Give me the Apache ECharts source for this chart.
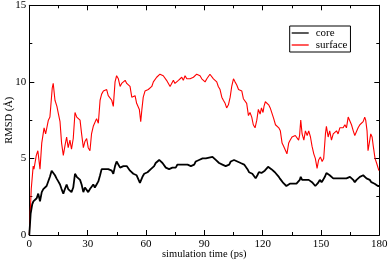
<!DOCTYPE html>
<html><head><meta charset="utf-8">
<script src="https://cdn.jsdelivr.net/npm/echarts@6/dist/echarts.min.js"></script>
<style>html,body{margin:0;padding:0;background:#fff}#c{width:388px;height:263px}</style>
</head><body><div id="c"></div>
<script>
const seriesNames = ["core", "surface"];
const xTicks = [0, 30, 60, 90, 120, 150, 180];
const yTicks = [0, 5, 10, 15];

const coreT = [0,0.7,1.5,2.1,2.9,3.8,4.6,5.5,6.4,7.2,8.1,8.9,9.8,10.6,11.5,12.3,13.2,14.0,14.9,15.8,16.6,17.5,18.3,19.2,20.0,20.9,21.7,22.6,23.5,24.4,25.2,26.1,26.9,27.8,28.6,29.5,30.3,31.2,32.0,32.9,33.7,34.6,35.5,36.4,37.2,38.1,38.9,39.8,40.6,41.5,42.4,43.2,44.1,44.9,45.8,46.7,47.5,48.4,49.3,50.1,51.0,51.8,52.7,53.5,54.4,55.2,56.1,56.9,57.5,58.2,59.1,59.9,60.8,61.7,62.5,63.4,64.2,65.0,65.9,66.8,67.6,68.5,69.3,70.2,71.1,71.9,72.8,73.6,74.5,75.3,76.2,77.1,77.9,78.8,79.6,80.5,81.4,82.2,83.1,83.9,84.8,85.6,86.5,87.3,88.2,89.1,89.9,90.8,91.6,92.5,93.3,94.2,95.1,95.9,96.8,97.6,98.5,99.3,100.2,101.0,101.9,102.8,103.6,104.5,105.3,106.2,107.0,107.9,108.7,109.6,110.5,111.3,112.2,113.0,113.9,114.7,115.6,116.4,117.3,118.1,119.4,120.2,121.1,122.0,122.8,123.7,124.5,125.4,126.3,127.1,128.0,128.8,129.7,130.6,131.4,132.2,133.1,134.0,134.8,135.7,136.5,137.4,138.2,139.1,139.6,140.3,141.2,142.0,142.9,143.7,144.6,145.4,146.3,147.1,147.7,148.5,149.4,150.3,151.1,152.0,152.8,153.7,154.5,155.4,156.3,157.1,158.0,158.8,159.7,160.6,161.4,162.3,163.1,164.0,164.9,165.7,166.6,167.4,168.3,169.1,170.0,170.8,171.7,172.5,173.4,174.2,175.1,175.9,176.8,177.6,178.5,179.3,180];
const coreV = [0,1.4,2.0,2.2,2.3,2.4,2.7,2.2,2.8,3.0,3.1,3.2,3.3,3.8,4.2,4.3,3.9,3.7,3.5,3.3,3.0,2.7,3.0,3.3,3.0,3.1,2.8,3.1,4.0,3.8,3.7,3.6,3.3,2.8,3.1,3.1,2.8,3.0,3.1,3.3,3.1,3.3,3.5,3.9,4.3,4.4,4.3,4.4,4.3,4.4,4.2,4.0,4.5,4.8,4.7,4.4,4.4,4.5,4.5,4.5,4.4,4.2,4.1,4.0,4.1,3.9,3.8,3.4,3.5,3.8,4.0,4.1,4.1,4.2,4.3,4.4,4.5,4.7,4.8,4.9,4.9,4.7,4.6,4.4,4.3,4.3,4.3,4.4,4.5,4.4,4.6,4.5,4.6,4.6,4.6,4.7,4.6,4.6,4.5,4.5,4.6,4.8,4.9,4.9,4.9,5.0,5.0,5.0,5.0,5.05,5.05,5.1,5.0,4.9,4.8,4.7,4.6,4.6,4.6,4.5,4.5,4.6,4.8,4.9,4.9,4.8,4.8,4.8,4.7,4.6,4.6,4.5,4.3,4.1,4.0,4.0,3.9,3.7,3.9,4.1,4.05,4.1,4.2,4.3,4.45,4.4,4.3,4.2,4.1,4.0,3.85,3.7,3.55,3.4,3.35,3.2,3.25,3.35,3.4,3.35,3.45,3.35,3.4,3.6,3.8,3.6,3.7,3.6,3.7,3.6,3.6,3.45,3.35,3.2,3.1,3.4,3.6,3.45,3.6,3.8,4.05,4.0,3.9,3.8,3.7,3.6,3.7,3.6,3.7,3.6,3.7,3.8,3.7,3.6,3.8,3.7,3.6,3.45,3.6,3.7,3.8,3.85,3.9,4.0,3.7,3.6,3.6,3.45,3.4,3.35,3.3,3.2,3.2];

const surfT = [0,1.0,2.0,2.4,3.6,4.4,5.5,6.4,7.6,8.4,9.8,10.6,11.8,12.3,13.2,14.2,15.0,15.8,16.6,17.5,18.3,19.2,20.0,20.9,21.7,22.6,23.5,24.4,25.2,26.1,26.9,27.8,28.6,29.5,30.3,31.2,32.0,32.9,33.7,34.6,35.5,36.4,37.2,38.1,38.9,39.8,40.6,41.5,42.4,43.2,44.1,44.9,45.8,46.7,47.5,48.4,49.3,50.1,51.0,51.8,52.7,53.5,54.4,55.2,56.1,56.6,57.3,57.9,58.6,59.5,60.4,61.2,62.1,63.0,63.8,65.5,67.2,68.1,68.9,69.8,70.6,71.5,72.4,73.2,74.1,74.9,75.8,76.7,77.5,78.4,79.2,80.1,81.0,81.8,82.7,83.5,84.4,85.3,86.1,87.0,87.8,88.7,89.6,90.4,91.3,92.1,92.9,93.8,94.7,95.5,96.4,97.2,98.1,99.0,99.8,100.7,101.5,102.4,103.3,104.1,105.0,105.8,106.7,107.6,108.4,109.3,110.1,111.0,111.8,112.7,113.5,114.4,115.2,116.1,117.0,117.8,118.7,119.4,120.2,120.7,121.4,122.4,123.1,123.9,124.8,125.7,126.6,127.4,128.3,129.1,130.0,130.8,131.7,132.5,133.4,134.2,135.1,136.0,136.8,137.7,138.5,139.0,139.6,140.3,141.2,142.0,142.9,143.7,144.6,145.4,146.3,147.1,148.0,148.8,149.7,150.6,151.4,152.3,152.8,153.7,154.5,155.4,156.3,157.1,158.0,158.8,159.7,160.6,161.4,162.3,163.1,164.0,164.9,165.7,166.6,167.4,168.3,169.1,170.0,170.8,171.7,172.5,173.0,173.7,174.2,175.1,175.6,176.3,176.9,177.8,178.6,179.8];
const surfV = [0,3.0,4.5,4.3,5.2,5.5,4.3,6.0,7.0,6.6,7.5,7.7,9.6,9.9,8.8,8.4,7.9,7.4,6.0,5.2,5.8,6.4,5.7,6.2,5.6,6.3,8.0,7.7,7.8,7.5,6.6,5.7,6.1,6.3,5.7,5.5,6.6,7.1,7.0,7.6,7.3,8.8,9.2,9.4,9.3,9.5,9.1,9.2,8.8,8.4,10.0,10.4,10.2,9.7,9.9,10.0,10.1,9.9,9.8,9.7,9.0,8.9,9.1,8.6,8.5,8.2,7.4,8.2,9.0,9.4,9.3,9.5,9.6,9.7,10.0,10.3,10.5,10.6,10.4,10.3,10.1,10.0,9.7,9.6,10.1,9.9,10.0,10.1,10.0,10.3,10.1,10.4,10.2,10.3,10.2,10.1,10.3,10.4,10.5,10.6,10.4,10.2,10.1,10.0,10.2,10.1,10.5,10.4,10.2,10.1,10.0,9.7,9.5,9.0,8.8,8.6,8.3,8.5,9.0,9.7,10.2,10.0,9.8,9.5,9.6,9.4,8.9,8.8,8.6,7.8,8.0,7.7,7.2,7.0,7.5,8.2,7.9,8.3,8.0,8.4,8.7,8.8,8.5,8.3,8.2,7.6,7.2,7.3,7.0,6.8,6.0,5.8,5.8,5.3,6.0,6.2,6.4,6.3,6.5,6.4,6.2,6.5,7.5,6.6,6.2,6.8,6.5,6.8,6.4,5.8,5.3,5.0,4.35,4.9,5.1,4.8,5.0,6.6,7.1,6.4,6.8,6.2,6.6,6.5,6.8,6.6,7.0,7.1,7.0,7.2,7.0,7.7,7.8,7.2,6.8,6.5,6.6,7.0,7.2,7.3,7.4,7.7,7.5,6.8,5.5,6.2,6.6,6.4,5.8,5.0,4.7,4.2];

const pairs = (t, v) => t.map((x, i) => [x, v[i]]);
const FONT = "Liberation Serif";

const tickCommon = {
  axisLine: { show: true, onZero: false, lineStyle: { color: "#000", width: 1 } },
  axisTick: { show: true, inside: true, length: 5, lineStyle: { color: "#000", width: 1 } },
  minorTick: { show: true, splitNumber: 2, length: 3, lineStyle: { color: "#000", width: 1 } },
  splitLine: { show: false }, minorSplitLine: { show: false }
};

const chart = echarts.init(document.getElementById("c"), null, { renderer: "canvas" });
chart.setOption({
  animation: false,
  backgroundColor: "#fff",
  grid: { left: 29.3, right: 8.7, top: 5.3, bottom: 28, containLabel: false, outerBoundsMode: "none" },
  legend: {
    left: 289.7, top: 26, orient: "vertical",
    data: seriesNames,
    icon: "rect", itemWidth: 17, itemHeight: 1.3, itemGap: 0,
    borderColor: "#000", borderWidth: 1, borderRadius: 0,
    padding: [1, 3, 1, 2],
    textStyle: { fontFamily: FONT, fontSize: 11, color: "#000", lineHeight: 12, padding: [0, 0, 0, 2] }
  },
  xAxis: [
    Object.assign({
      type: "value", min: 0, max: 180, interval: 30, position: "bottom",
      name: "simulation time (ps)", nameLocation: "middle", nameGap: 14, nameMoveOverlap: false,
      nameTextStyle: { fontFamily: FONT, fontSize: 10.5, color: "#000" },
      axisLabel: { fontFamily: FONT, fontSize: 11, color: "#000", margin: 4,
        formatter: v => xTicks.includes(v) ? String(v) : "" }
    }, tickCommon),
    Object.assign({
      type: "value", min: 0, max: 180, interval: 30, position: "top",
      axisLabel: { show: false }
    }, tickCommon)
  ],
  yAxis: [
    Object.assign({
      type: "value", min: 0, max: 15, interval: 5, position: "left",
      name: "RMSD (Å)", nameLocation: "middle", nameGap: 15, nameRotate: 90, nameMoveOverlap: false,
      nameTextStyle: { fontFamily: FONT, fontSize: 10.5, color: "#000" },
      axisLabel: { fontFamily: FONT, fontSize: 11, color: "#000", margin: 3,
        formatter: v => yTicks.includes(v) ? String(v) : "" }
    }, tickCommon),
    Object.assign({
      type: "value", min: 0, max: 15, interval: 5, position: "right",
      axisLabel: { show: false }
    }, tickCommon)
  ],
  series: [
    { name: seriesNames[0], type: "line", data: pairs(coreT, coreV), showSymbol: false, symbol: "none",
      itemStyle: { color: "#000" }, lineStyle: { color: "#000", width: 1.8 }, z: 3 },
    { name: seriesNames[1], type: "line", data: pairs(surfT, surfV), showSymbol: false, symbol: "none",
      itemStyle: { color: "#ff0000" }, lineStyle: { color: "#ff0000", width: 1.1 }, z: 2 }
  ]
});
</script></body></html>
